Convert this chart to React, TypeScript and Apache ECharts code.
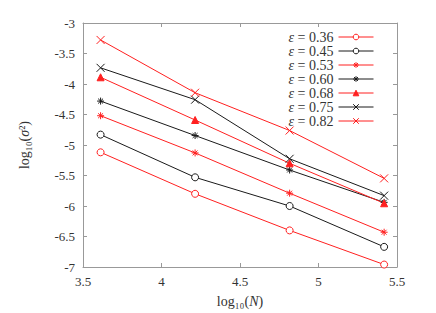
import React, { useEffect, useRef } from "react";
import * as echarts from "echarts";

const logN = [3.612, 4.214, 4.816, 5.418];
const epsLabels = ["0.36", "0.45", "0.53", "0.60", "0.68", "0.75", "0.82"];
const e036 = [-5.12, -5.8, -6.4, -6.96];
const e045 = [-4.83, -5.53, -6.0, -6.67];
const e053 = [-4.52, -5.13, -5.79, -6.43];
const e060 = [-4.28, -4.845, -5.41, -5.94];
const e068 = [-3.89, -4.59, -5.3, -5.955];
const e075 = [-3.735, -4.257, -5.226, -5.83];
const e082 = [-3.278, -4.143, -4.763, -5.547];
const xTicks = { min: 3.5, max: 5.5, interval: 0.5 };
const yTicks = { min: -7, max: -3, interval: 0.5 };

const RED = "#ff2020";
const BLACK = "#1a1a1a";
const ASTERISK = "path://M0,5L10,5M5,0L5,10M1.5,1.5L8.5,8.5M8.5,1.5L1.5,8.5";
const CROSS = "path://M0,0L10,10M10,0L0,10";

const FONT = "'Liberation Serif', 'DejaVu Serif', serif";

export default function App() {
  const ref = useRef<HTMLDivElement>(null);
  useEffect(() => {
    if (!ref.current) return;
    const chart = echarts.init(ref.current, undefined, { renderer: "svg" });
    const values = [e036, e045, e053, e060, e068, e075, e082];
    const colors = [RED, BLACK, RED, BLACK, RED, BLACK, RED];
    const symbols = ["circle", "circle", ASTERISK, ASTERISK, "triangle", CROSS, CROSS];
    const sizes = [7, 7, 7, 7, 7, 8, 8];
    const series = values.map((v, i) => ({
      type: "line",
      name: "ε = " + epsLabels[i],
      data: v.map((y, j) => [logN[j], y]),
      symbol: symbols[i],
      symbolSize: sizes[i],
      showSymbol: true,
      lineStyle: { color: colors[i], width: 1 },
      itemStyle: {
        color: symbols[i] === "circle" ? "#fff" : colors[i],
        borderColor: colors[i],
        borderWidth: 1,
      },
      emphasis: { disabled: true },
    }));
    const axisLine = { show: true, lineStyle: { color: "#999", width: 1 } };
    const tick = { show: true, inside: true, length: 4, lineStyle: { color: "#999" } };
    const labelStyle = { fontFamily: FONT, fontSize: 13, color: "#333" };
    const rich = {
      i: { fontFamily: FONT, fontSize: 14, fontStyle: "italic", color: "#333" },
      n: { fontFamily: FONT, fontSize: 14, color: "#333" },
    };
    chart.setOption({
      animation: false,
      grid: { left: 83, right: 39, top: 23, bottom: 44, containLabel: false },
      legend: {
        right: 57,
        top: 25,
        orient: "vertical",
        align: "right",
        itemWidth: 35,
        itemHeight: 7,
        itemGap: 0,
        lineStyle: { width: 1 },
        itemStyle: { borderWidth: 1 },
        formatter: (name: string) => "{i|ε}{n|" + name.slice(1) + "}",
        textStyle: { fontFamily: FONT, fontSize: 14, color: "#333", lineHeight: 14, rich },
        data: epsLabels.map((e) => "ε = " + e),
      },
      xAxis: [
        {
          type: "value",
          ...xTicks,
          axisLine,
          axisTick: tick,
          splitLine: { show: false },
          axisLabel: { ...labelStyle, margin: 8 },
          name: "{n|log₁₀(}{i|N}{n|)}",
          nameLocation: "middle",
          nameGap: 27,
          nameTextStyle: { ...labelStyle, fontSize: 14, rich },
        },
        {
          type: "value",
          position: "top",
          ...xTicks,
          axisLine,
          axisTick: tick,
          splitLine: { show: false },
          axisLabel: { show: false },
        },
      ],
      yAxis: [
        {
          type: "value",
          ...yTicks,
          axisLine,
          axisTick: tick,
          splitLine: { show: false },
          axisLabel: { ...labelStyle, margin: 8 },
          name: "{n|log₁₀(}{i|σ}{n|²)}",
          nameLocation: "middle",
          nameGap: 52,
          nameRotate: 90,
          nameTextStyle: { ...labelStyle, fontSize: 14, rich },
        },
        {
          type: "value",
          position: "right",
          ...yTicks,
          axisLine,
          axisTick: tick,
          splitLine: { show: false },
          axisLabel: { show: false },
        },
      ],
      series,
    });
    return () => chart.dispose();
  }, []);
  return (
    <div
      ref={ref}
      style={{ position: "fixed", left: 0, top: 0, width: 436, height: 313, background: "#fff" }}
    />
  );
}
